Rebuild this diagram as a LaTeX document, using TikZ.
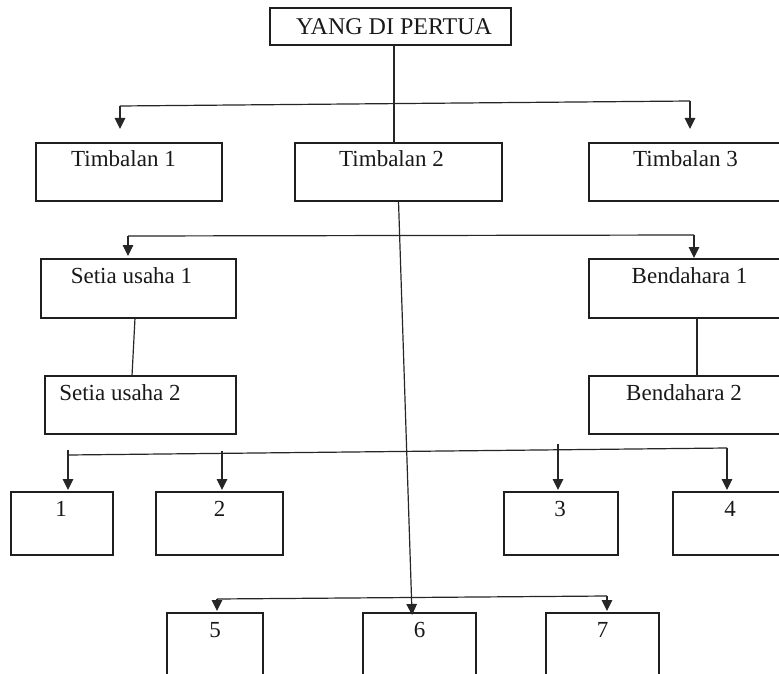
\documentclass[tikz,border=0pt]{standalone}
\usepackage{fontspec}
\setmainfont{Liberation Serif}
\usetikzlibrary{arrows.meta}
\begin{document}
\begin{tikzpicture}[x=1pt,y=-1pt,
  box/.style={draw=black!88, line width=1.4pt, rectangle, inner sep=0pt, outer sep=0pt},
  lab/.style={font=\fontsize{23}{27}\selectfont, inner sep=0pt, anchor=center, text=black!90},
  ln/.style={draw=black!85, line width=1.2pt},
  arr/.style={ln, -{Triangle[width=10.5pt,length=11pt]}}]
\useasboundingbox (0,0) rectangle (779,674);
\fill[white] (0,0) rectangle (779,674);
\clip (0,0) rectangle (779,674);
% boxes
\node[box, minimum width=241pt, minimum height=37pt] (yang) at (390.5,26.5) {};
\node[box, minimum width=186pt, minimum height=58pt] (t1) at (129,172) {};
\node[box, minimum width=207pt, minimum height=58pt] (t2) at (398.5,172) {};
\node[box, minimum width=201pt, minimum height=58pt] (t3) at (689.5,172) {};
\node[box, minimum width=195pt, minimum height=59pt] (s1) at (138.5,288.5) {};
\node[box, minimum width=201pt, minimum height=59pt] (b1) at (689.5,288.5) {};
\node[box, minimum width=191pt, minimum height=58pt] (s2) at (140.5,405) {};
\node[box, minimum width=201pt, minimum height=58pt] (b2) at (689.5,405) {};
\node[box, minimum width=102pt, minimum height=63pt] (n1) at (62,523.5) {};
\node[box, minimum width=127pt, minimum height=63pt] (n2) at (219.5,523.5) {};
\node[box, minimum width=114pt, minimum height=63pt] (n3) at (561,523.5) {};
\node[box, minimum width=117pt, minimum height=63pt] (n4) at (731.5,523.5) {};
\node[box, minimum width=96pt, minimum height=77pt] (n5) at (215,651.5) {};
\node[box, minimum width=113pt, minimum height=77pt] (n6) at (419.5,651.5) {};
\node[box, minimum width=113pt, minimum height=77pt] (n7) at (602.5,651.5) {};
% texts
\node[lab, font=\fontsize{24}{28}\selectfont] (yangl) at ([xshift=3.5pt]yang.center) {YANG DI PERTUA};
\node[lab] (t1l) at ([xshift=-5.5pt,yshift=-16pt]t1.north) {Timbalan 1};
\node[lab] (t2l) at ([xshift=-7pt,yshift=-16pt]t2.north) {Timbalan 2};
\node[lab] (t3l) at ([xshift=-4pt,yshift=-16pt]t3.north) {Timbalan 3};
\node[lab] (s1l) at ([xshift=-7pt,yshift=-17pt]s1.north) {Setia usaha 1};
\node[lab] (b1l) at ([xshift=0pt,yshift=-17pt]b1.north) {Bendahara 1};
\node[lab] (s2l) at ([xshift=-20.5pt,yshift=-17pt]s2.north) {Setia usaha 2};
\node[lab] (b2l) at ([xshift=-5.5pt,yshift=-17pt]b2.north) {Bendahara 2};
\node[lab] (n1l) at ([xshift=-1pt,yshift=-17pt]n1.north) {1};
\node[lab] (n2l) at ([xshift=0pt,yshift=-17pt]n2.north) {2};
\node[lab] (n3l) at ([xshift=-1pt,yshift=-17pt]n3.north) {3};
\node[lab] (n4l) at ([xshift=-1.5pt,yshift=-17pt]n4.north) {4};
\node[lab] (n5l) at ([xshift=0pt,yshift=-17pt]n5.north) {5};
\node[lab] (n6l) at ([xshift=0pt,yshift=-17pt]n6.north) {6};
\node[lab] (n7l) at ([xshift=0pt,yshift=-17pt]n7.north) {7};
% top level
\draw[ln] ([xshift=3.5pt]yang.south) -- ([xshift=-4.5pt]t2.north);
\coordinate (h1l) at (120,106);
\coordinate (h1r) at (690,101);
\draw[ln] (h1l) -- (h1r);
\draw[arr, shorten >=14pt] (h1l) -- (h1l |- t1.north);
\draw[arr, shorten >=14pt] (h1r) -- (h1r |- t3.north);
% long line
\draw[arr, shorten >=-2pt] (t2.south) -- ([xshift=-7.5pt]n6.north);
% second level
\coordinate (h2l) at (128,236);
\coordinate (h2r) at (694,235);
\draw[ln] (h2l) -- (h2r);
\draw[arr, shorten >=3pt] (h2l) -- (h2l |- s1.north);
\draw[arr, shorten >=1pt] (h2r) -- (h2r |- b1.north);
\draw[ln] ([xshift=-3.5pt]s1.south) -- ([xshift=-8.5pt]s2.north);
\draw[ln] ([xshift=7.5pt]b1.south) -- ([xshift=7.5pt]b2.north);
% third level
\coordinate (h3l) at (68,455);
\coordinate (h3r) at (727,448);
\draw[ln] (h3l) -- (h3r);
\coordinate (a1) at (68,450);
\coordinate (a2) at (222,451);
\coordinate (a3) at (558,444);
\draw[arr, shorten >=2pt] (a1) -- (a1 |- n1.north);
\draw[arr, shorten >=2pt] (a2) -- (a2 |- n2.north);
\draw[arr, shorten >=2pt] (a3) -- (a3 |- n3.north);
\draw[arr, shorten >=2pt] (h3r) -- (h3r |- n4.north);
% bottom level
\coordinate (h4l) at (217,599);
\coordinate (h4r) at (607,596);
\draw[ln] (h4l) -- (h4r);
\draw[arr, shorten >=2pt] (h4l) -- (h4l |- n5.north);
\draw[arr, shorten >=2pt] (h4r) -- (h4r |- n7.north);
\end{tikzpicture}
\end{document}
